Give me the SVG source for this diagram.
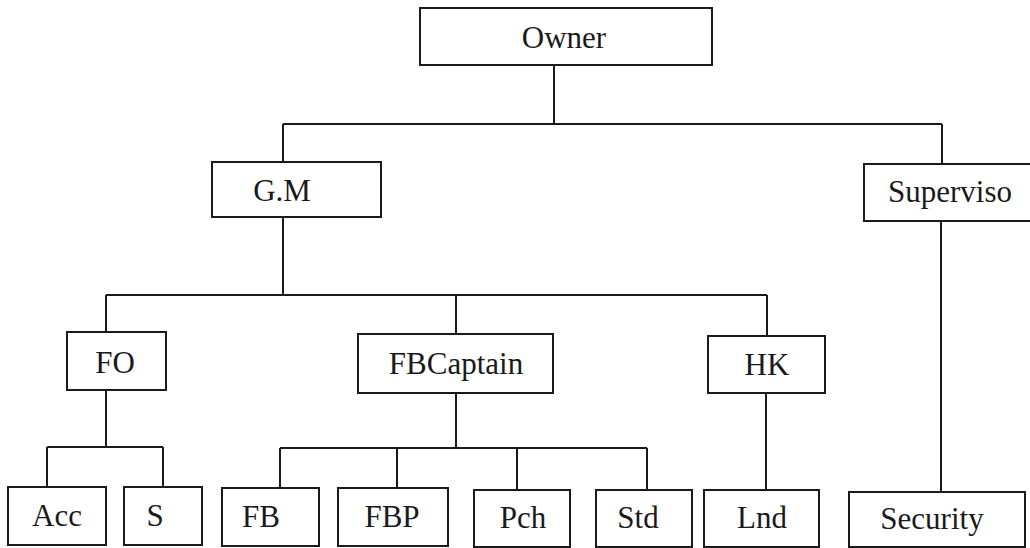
<svg xmlns="http://www.w3.org/2000/svg" width="1030" height="548" viewBox="0 0 1030 548">
<style>
.box{fill:#fff;stroke:#1a1a1a;stroke-width:2}
.t{font-family:"Liberation Serif","Times New Roman",serif;font-size:31px;fill:#1a1a1a;text-anchor:middle}
.c{stroke:#1a1a1a;stroke-width:2;fill:none}
</style>
<rect width="1030" height="548" fill="#fff"/>
<g id="connectors" class="c">
<path d="M554 65V124M283 124H942M283 124V162M942 124V164"/>
<path d="M283 217V295M106 295H767M106 295V332M456 295V334M767 295V336"/>
<path d="M106 390V447M47 447H163M47 447V487M163 447V487"/>
<path d="M456 393V448M280 448H647M280 448V488M397 448V488M517 448V490M647 448V490"/>
<path d="M766 393V490"/>
<path d="M941 221V492"/>
</g>
<g id="owner"><rect class="box" x="420" y="8" width="292" height="57"/><text class="t" x="564" y="48">Owner</text></g>
<g id="gm"><rect class="box" x="212" y="162" width="169" height="55"/><text class="t" x="282" y="201">G.M</text></g>
<g id="superviso"><rect class="box" x="864" y="164" width="175" height="57"/><text class="t" x="950" y="202">Superviso</text></g>
<g id="fo"><rect class="box" x="67" y="332" width="99" height="58"/><text class="t" x="115" y="373">FO</text></g>
<g id="fbcaptain"><rect class="box" x="358" y="334" width="195" height="59"/><text class="t" x="456" y="374">FBCaptain</text></g>
<g id="hk"><rect class="box" x="708" y="336" width="117" height="57"/><text class="t" x="767" y="375">HK</text></g>
<g id="acc"><rect class="box" x="8" y="487" width="98" height="58"/><text class="t" x="57" y="526">Acc</text></g>
<g id="s"><rect class="box" x="124" y="487" width="78" height="58"/><text class="t" x="155" y="526">S</text></g>
<g id="fb"><rect class="box" x="222" y="488" width="97" height="58"/><text class="t" x="261" y="527">FB</text></g>
<g id="fbp"><rect class="box" x="338" y="488" width="110" height="58"/><text class="t" x="392" y="527">FBP</text></g>
<g id="pch"><rect class="box" x="474" y="490" width="96" height="57"/><text class="t" x="523" y="528">Pch</text></g>
<g id="std"><rect class="box" x="596" y="490" width="96" height="57"/><text class="t" x="638" y="528">Std</text></g>
<g id="lnd"><rect class="box" x="704" y="490" width="115" height="57"/><text class="t" x="762" y="528">Lnd</text></g>
<g id="security"><rect class="box" x="849" y="492" width="176" height="55"/><text class="t" x="932" y="529">Security</text></g>
</svg>
